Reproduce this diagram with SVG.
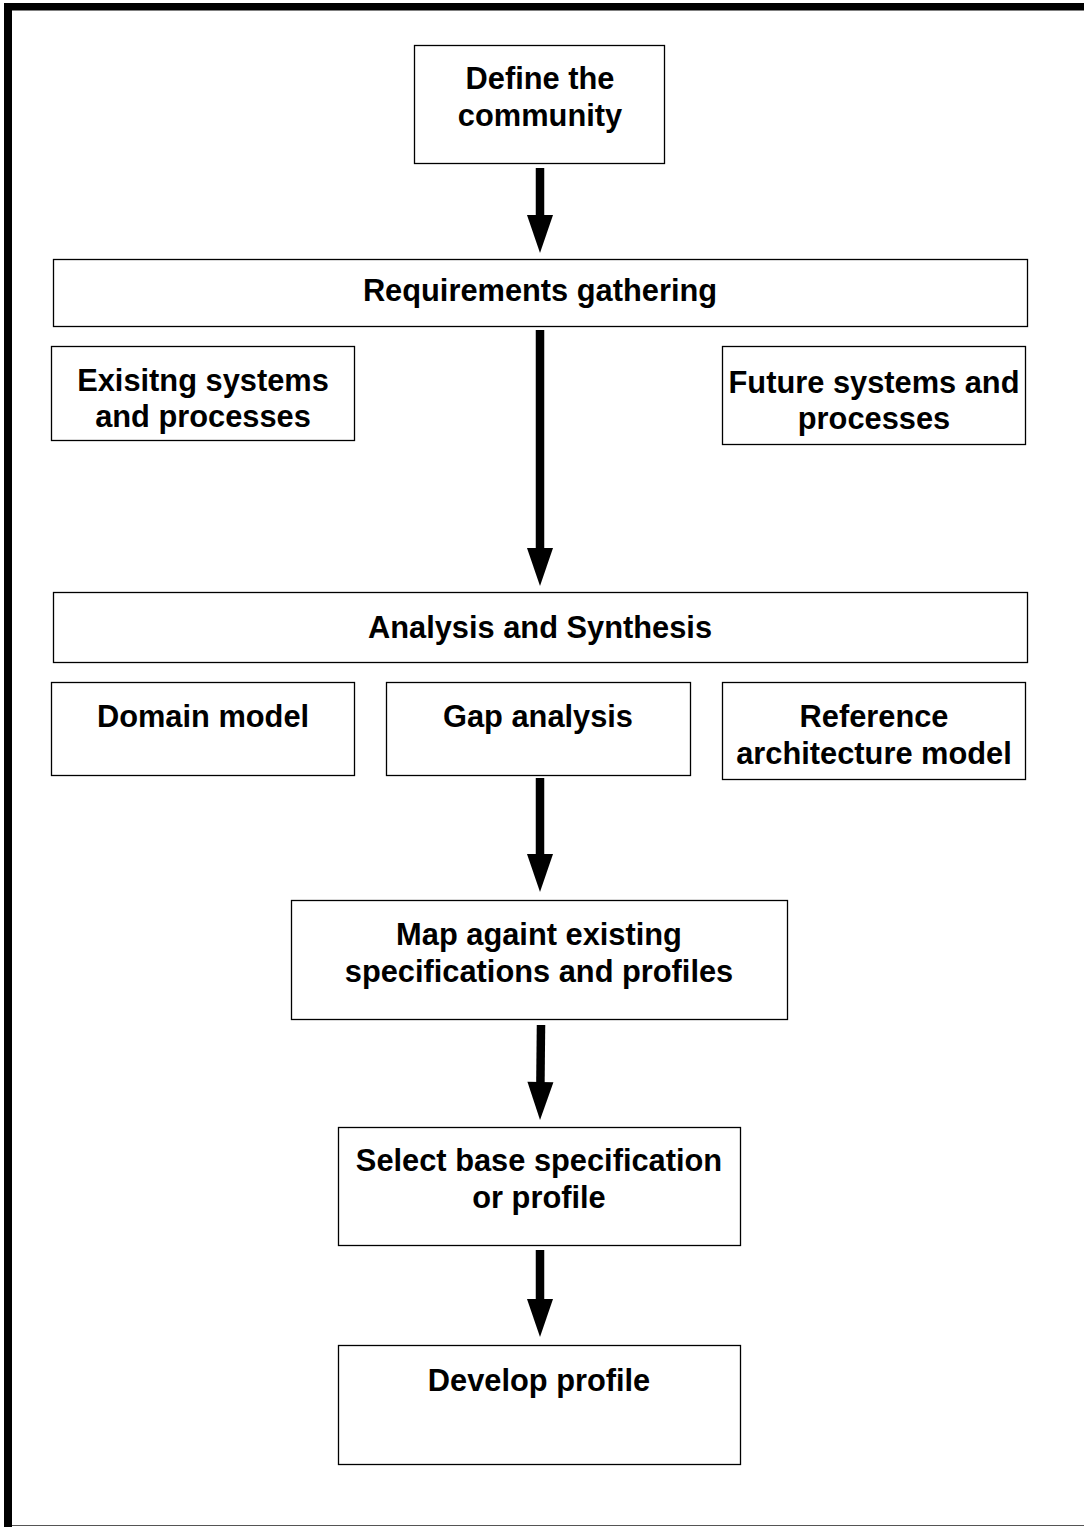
<svg xmlns="http://www.w3.org/2000/svg" width="1084" height="1527" viewBox="0 0 1084 1527">
  <style>
    .box { fill: #ffffff; stroke: #000000; stroke-width: 1.3; }
    .lbl { font-family: "Liberation Sans", Arial, sans-serif; font-weight: bold; font-size: 30.8px; fill: #000000; text-anchor: middle; }
    .flow { stroke: #000000; stroke-width: 8.5; fill: none; marker-end: url(#head); }
  </style>
  <defs>
    <marker id="head" markerUnits="userSpaceOnUse" markerWidth="40" markerHeight="28" refX="2" refY="13" orient="auto" overflow="visible">
      <path d="M0,0 L38,13 L0,26 Z" fill="#000000"/>
    </marker>
  </defs>

  <!-- page frame -->
  <rect width="1084" height="1527" fill="#ffffff"/>
  <g id="frame">
    <rect x="4" y="3" width="1080" height="7.5" fill="#000000"/>
    <rect x="4" y="3" width="8" height="1524" fill="#000000"/>
    <line x1="12" y1="1525.5" x2="1084" y2="1525.5" stroke="#555555" stroke-width="1.2"/>
  </g>

  <!-- connectors -->
  <g id="connectors">
    <line class="flow" x1="540" y1="168" x2="540" y2="217"/>
    <line class="flow" x1="540" y1="330" x2="540" y2="550"/>
    <line class="flow" x1="540" y1="778" x2="540" y2="856"/>
    <line class="flow" x1="541" y1="1025" x2="540.4" y2="1084"/>
    <line class="flow" x1="540" y1="1250" x2="540" y2="1301"/>
  </g>

  <g id="define-community">
    <rect class="box" x="414.5" y="45.5" width="250" height="118"/>
    <text class="lbl" x="540" y="89">Define the</text>
    <text class="lbl" x="540" y="126">community</text>
  </g>

  <g id="requirements-gathering">
    <rect class="box" x="53.5" y="259.5" width="974" height="67"/>
    <text class="lbl" x="540" y="301">Requirements gathering</text>
  </g>

  <g id="existing-systems">
    <rect class="box" x="51.5" y="346.5" width="303" height="94"/>
    <text class="lbl" x="203" y="391">Exisitng systems</text>
    <text class="lbl" x="203" y="427">and processes</text>
  </g>

  <g id="future-systems">
    <rect class="box" x="722.5" y="346.5" width="303" height="98"/>
    <text class="lbl" x="874" y="393">Future systems and</text>
    <text class="lbl" x="874" y="429">processes</text>
  </g>

  <g id="analysis-synthesis">
    <rect class="box" x="53.5" y="592.5" width="974" height="70"/>
    <text class="lbl" x="540" y="638">Analysis and Synthesis</text>
  </g>

  <g id="domain-model">
    <rect class="box" x="51.5" y="682.5" width="303" height="93"/>
    <text class="lbl" x="203" y="727">Domain model</text>
  </g>

  <g id="gap-analysis">
    <rect class="box" x="386.5" y="682.5" width="304" height="93"/>
    <text class="lbl" x="538" y="727">Gap analysis</text>
  </g>

  <g id="reference-architecture">
    <rect class="box" x="722.5" y="682.5" width="303" height="97"/>
    <text class="lbl" x="874" y="727">Reference</text>
    <text class="lbl" x="874" y="764">architecture model</text>
  </g>

  <g id="map-specifications">
    <rect class="box" x="291.5" y="900.5" width="496" height="119"/>
    <text class="lbl" x="539" y="945">Map againt existing</text>
    <text class="lbl" x="539" y="982">specifications and profiles</text>
  </g>

  <g id="select-base">
    <rect class="box" x="338.5" y="1127.5" width="402" height="118"/>
    <text class="lbl" x="539" y="1171">Select base specification</text>
    <text class="lbl" x="539" y="1208">or profile</text>
  </g>

  <g id="develop-profile">
    <rect class="box" x="338.5" y="1345.5" width="402" height="119"/>
    <text class="lbl" x="539" y="1391">Develop profile</text>
  </g>
</svg>
